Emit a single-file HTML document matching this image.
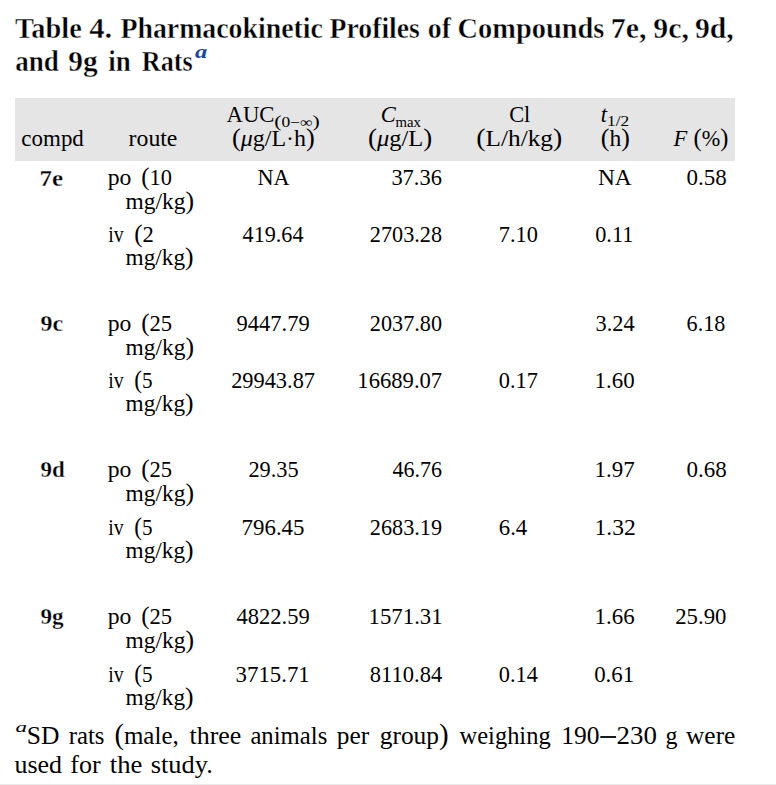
<!DOCTYPE html><html><head><meta charset="utf-8"><style>html,body{margin:0;padding:0;background:#fff;width:776px;height:785px;overflow:hidden}svg{display:block}text{font-family:"Liberation Serif",serif}</style></head><body><svg width="776" height="785" viewBox="0 0 776 785"><rect x="15" y="98" width="720" height="63" fill="#e5e5e5"/><rect x="0" y="784" width="776" height="1" fill="#eaeaea"/><rect x="600.3" y="736.1" width="15.8" height="1.8" fill="#000"/>
<text id="t1_0" x="15.00" y="37.80" font-size="28.5" font-weight="bold" textLength="66.76" lengthAdjust="spacingAndGlyphs" stroke="#fff" stroke-width="0.4" stroke-linejoin="round">Table</text>
<text id="t1_1" x="89.17" y="37.80" font-size="28.5" font-weight="bold" textLength="22.90" lengthAdjust="spacingAndGlyphs" stroke="#fff" stroke-width="0.4" stroke-linejoin="round">4.</text>
<text id="t1_2" x="120.41" y="37.80" font-size="28.5" font-weight="bold" textLength="202.56" lengthAdjust="spacingAndGlyphs" stroke="#fff" stroke-width="0.4" stroke-linejoin="round">Pharmacokinetic</text>
<text id="t1_3" x="329.61" y="37.80" font-size="28.5" font-weight="bold" textLength="90.25" lengthAdjust="spacingAndGlyphs" stroke="#fff" stroke-width="0.4" stroke-linejoin="round">Profiles</text>
<text id="t1_4" x="427.80" y="37.80" font-size="28.5" font-weight="bold" textLength="23.16" lengthAdjust="spacingAndGlyphs" stroke="#fff" stroke-width="0.4" stroke-linejoin="round">of</text>
<text id="t1_5" x="457.60" y="37.80" font-size="28.5" font-weight="bold" textLength="146.82" lengthAdjust="spacingAndGlyphs" stroke="#fff" stroke-width="0.4" stroke-linejoin="round">Compounds</text>
<text id="t1_6" x="610.70" y="37.80" font-size="28.5" font-weight="bold" textLength="35.71" lengthAdjust="spacingAndGlyphs" stroke="#fff" stroke-width="0.4" stroke-linejoin="round">7e,</text>
<text id="t1_7" x="653.36" y="37.80" font-size="28.5" font-weight="bold" textLength="35.64" lengthAdjust="spacingAndGlyphs" stroke="#fff" stroke-width="0.4" stroke-linejoin="round">9c,</text>
<text id="t1_8" x="694.96" y="37.80" font-size="28.5" font-weight="bold" textLength="38.73" lengthAdjust="spacingAndGlyphs" stroke="#fff" stroke-width="0.4" stroke-linejoin="round">9d,</text>
<text id="t2_0" x="15.24" y="70.60" font-size="28.5" font-weight="bold" textLength="43.63" lengthAdjust="spacingAndGlyphs" stroke="#fff" stroke-width="0.4" stroke-linejoin="round">and</text>
<text id="t2_1" x="68.37" y="70.60" font-size="28.5" font-weight="bold" textLength="29.43" lengthAdjust="spacingAndGlyphs" stroke="#fff" stroke-width="0.4" stroke-linejoin="round">9g</text>
<text id="t2_2" x="108.20" y="70.60" font-size="28.5" font-weight="bold" textLength="22.55" lengthAdjust="spacingAndGlyphs" stroke="#fff" stroke-width="0.4" stroke-linejoin="round">in</text>
<text id="t2_3" x="141.86" y="70.60" font-size="28.5" font-weight="bold" textLength="50.82" lengthAdjust="spacingAndGlyphs" stroke="#fff" stroke-width="0.4" stroke-linejoin="round">Rats</text>
<text id="t2_sup" x="195.00" y="58.00" font-size="18.5" font-weight="bold" font-style="italic" fill="#1a48a0" textLength="12.26" lengthAdjust="spacingAndGlyphs">a</text>
<text id="h_compd" x="21.39" y="146.30" font-size="22.5" textLength="62.46" lengthAdjust="spacingAndGlyphs">compd</text>
<text id="h_route" x="128.59" y="146.30" font-size="22.5" textLength="48.85" lengthAdjust="spacingAndGlyphs">route</text>
<text id="h_auc" x="226.59" y="122.00" font-size="22.5" textLength="47.93" lengthAdjust="spacingAndGlyphs">AUC</text>
<text id="h_aucsub" x="274.29" y="127.00" font-size="14" textLength="45.49" lengthAdjust="spacingAndGlyphs"><tspan font-size="17.5">(</tspan>0−∞<tspan font-size="17.5">)</tspan></text>
<text id="h_aucu" x="231.94" y="146.00" font-size="22.5" textLength="82.86" lengthAdjust="spacingAndGlyphs"><tspan font-size="24.8">(</tspan><tspan font-style="italic">μ</tspan>g/L·h<tspan font-size="24.8">)</tspan></text>
<text id="h_c" x="380.80" y="122.20" font-size="22.5" font-style="italic">C</text>
<text id="h_max" x="395.40" y="127.00" font-size="15" textLength="25.43" lengthAdjust="spacingAndGlyphs">max</text>
<text id="h_cu" x="368.09" y="145.90" font-size="22.5" textLength="64.15" lengthAdjust="spacingAndGlyphs"><tspan font-size="24.8">(</tspan><tspan font-style="italic">μ</tspan>g/L<tspan font-size="24.8">)</tspan></text>
<text id="h_cl" x="509.19" y="121.90" font-size="22.5" textLength="21.07" lengthAdjust="spacingAndGlyphs">Cl</text>
<text id="h_clu" x="476.29" y="146.00" font-size="22.5" textLength="85.92" lengthAdjust="spacingAndGlyphs"><tspan font-size="24.8">(</tspan>L/h/kg<tspan font-size="24.8">)</tspan></text>
<text id="h_t" x="600.80" y="122.00" font-size="22.5" font-style="italic">t</text>
<text id="h_t12" x="607.05" y="126.40" font-size="14" textLength="22.16" lengthAdjust="spacingAndGlyphs">1/2</text>
<text id="h_h" x="600.75" y="146.00" font-size="22.5" textLength="29.11" lengthAdjust="spacingAndGlyphs"><tspan font-size="24.8">(</tspan>h<tspan font-size="24.8">)</tspan></text>
<text id="h_F" x="673.40" y="146.00" font-size="22.5" font-style="italic">F</text>
<text id="h_pct" x="693.60" y="146.00" font-size="22.5" textLength="34.87" lengthAdjust="spacingAndGlyphs"><tspan font-size="24.8">(</tspan>%<tspan font-size="24.8">)</tspan></text>
<text id="g0_lab" x="39.47" y="185.50" font-size="22.5" font-weight="bold" textLength="23.61" lengthAdjust="spacingAndGlyphs" stroke="#fff" stroke-width="0.3" stroke-linejoin="round">7e</text>
<text id="g0_po" x="107.75" y="185.00" font-size="22.5" textLength="23.69" lengthAdjust="spacingAndGlyphs">po</text>
<text id="g0_pod" x="141.19" y="185.00" font-size="22.5" textLength="30.66" lengthAdjust="spacingAndGlyphs"><tspan font-size="24.8">(</tspan>10</text>
<text id="g0_mg1" x="125.60" y="208.70" font-size="22.5" textLength="68.41" lengthAdjust="spacingAndGlyphs">mg/kg<tspan font-size="24.8">)</tspan></text>
<text id="g0_iv" x="108.22" y="242.20" font-size="22.5" textLength="15.45" lengthAdjust="spacingAndGlyphs">iv</text>
<text id="g0_ivd" x="134.15" y="242.20" font-size="22.5" textLength="19.57" lengthAdjust="spacingAndGlyphs"><tspan font-size="24.8">(</tspan>2</text>
<text id="g0_mg2" x="125.58" y="265.20" font-size="22.5" textLength="68.02" lengthAdjust="spacingAndGlyphs">mg/kg<tspan font-size="24.8">)</tspan></text>
<text id="g0_n0" x="257.40" y="185.00" font-size="22.5" textLength="32.10" lengthAdjust="spacingAndGlyphs">NA</text>
<text id="g0_n1" x="391.39" y="185.00" font-size="22.5" textLength="50.54" lengthAdjust="spacingAndGlyphs">37.36</text>
<text id="g0_n3" x="597.96" y="185.00" font-size="22.5" textLength="33.77" lengthAdjust="spacingAndGlyphs">NA</text>
<text id="g0_n4" x="686.58" y="185.00" font-size="22.5" textLength="40.22" lengthAdjust="spacingAndGlyphs">0.58</text>
<text id="g0_n5" x="242.60" y="242.20" font-size="22.5" textLength="60.88" lengthAdjust="spacingAndGlyphs">419.64</text>
<text id="g0_n6" x="369.81" y="242.20" font-size="22.5" textLength="72.22" lengthAdjust="spacingAndGlyphs">2703.28</text>
<text id="g0_n7" x="498.79" y="242.20" font-size="22.5" textLength="39.10" lengthAdjust="spacingAndGlyphs">7.10</text>
<text id="g0_n8" x="595.20" y="242.20" font-size="22.5" textLength="38.15" lengthAdjust="spacingAndGlyphs">0.11</text>
<text id="g1_lab" x="40.54" y="331.00" font-size="22.5" font-weight="bold" textLength="22.64" lengthAdjust="spacingAndGlyphs" stroke="#fff" stroke-width="0.3" stroke-linejoin="round">9c</text>
<text id="g1_po" x="107.75" y="331.20" font-size="22.5" textLength="23.69" lengthAdjust="spacingAndGlyphs">po</text>
<text id="g1_pod" x="141.18" y="331.20" font-size="22.5" textLength="30.88" lengthAdjust="spacingAndGlyphs"><tspan font-size="24.8">(</tspan>25</text>
<text id="g1_mg1" x="125.60" y="354.90" font-size="22.5" textLength="68.41" lengthAdjust="spacingAndGlyphs">mg/kg<tspan font-size="24.8">)</tspan></text>
<text id="g1_iv" x="108.22" y="388.40" font-size="22.5" textLength="15.45" lengthAdjust="spacingAndGlyphs">iv</text>
<text id="g1_ivd" x="134.22" y="388.40" font-size="22.5" textLength="18.29" lengthAdjust="spacingAndGlyphs"><tspan font-size="24.8">(</tspan>5</text>
<text id="g1_mg2" x="125.58" y="411.40" font-size="22.5" textLength="68.02" lengthAdjust="spacingAndGlyphs">mg/kg<tspan font-size="24.8">)</tspan></text>
<text id="g1_n0" x="236.60" y="331.20" font-size="22.5" textLength="73.12" lengthAdjust="spacingAndGlyphs">9447.79</text>
<text id="g1_n1" x="369.81" y="331.20" font-size="22.5" textLength="72.22" lengthAdjust="spacingAndGlyphs">2037.80</text>
<text id="g1_n3" x="595.59" y="331.20" font-size="22.5" textLength="39.09" lengthAdjust="spacingAndGlyphs">3.24</text>
<text id="g1_n4" x="686.61" y="331.20" font-size="22.5" textLength="38.75" lengthAdjust="spacingAndGlyphs">6.18</text>
<text id="g1_n5" x="231.20" y="388.40" font-size="22.5" textLength="83.78" lengthAdjust="spacingAndGlyphs">29943.87</text>
<text id="g1_n6" x="357.39" y="388.40" font-size="22.5" textLength="84.79" lengthAdjust="spacingAndGlyphs">16689.07</text>
<text id="g1_n7" x="498.80" y="388.40" font-size="22.5" textLength="39.09" lengthAdjust="spacingAndGlyphs">0.17</text>
<text id="g1_n8" x="594.57" y="388.40" font-size="22.5" textLength="40.11" lengthAdjust="spacingAndGlyphs">1.60</text>
<text id="g2_lab" x="40.57" y="477.10" font-size="22.5" font-weight="bold" textLength="24.29" lengthAdjust="spacingAndGlyphs" stroke="#fff" stroke-width="0.3" stroke-linejoin="round">9d</text>
<text id="g2_po" x="107.75" y="477.30" font-size="22.5" textLength="23.69" lengthAdjust="spacingAndGlyphs">po</text>
<text id="g2_pod" x="141.18" y="477.30" font-size="22.5" textLength="30.88" lengthAdjust="spacingAndGlyphs"><tspan font-size="24.8">(</tspan>25</text>
<text id="g2_mg1" x="125.60" y="501.00" font-size="22.5" textLength="68.41" lengthAdjust="spacingAndGlyphs">mg/kg<tspan font-size="24.8">)</tspan></text>
<text id="g2_iv" x="108.22" y="534.50" font-size="22.5" textLength="15.45" lengthAdjust="spacingAndGlyphs">iv</text>
<text id="g2_ivd" x="134.22" y="534.50" font-size="22.5" textLength="18.29" lengthAdjust="spacingAndGlyphs"><tspan font-size="24.8">(</tspan>5</text>
<text id="g2_mg2" x="125.58" y="557.50" font-size="22.5" textLength="68.02" lengthAdjust="spacingAndGlyphs">mg/kg<tspan font-size="24.8">)</tspan></text>
<text id="g2_n0" x="248.40" y="477.30" font-size="22.5" textLength="50.22" lengthAdjust="spacingAndGlyphs">29.35</text>
<text id="g2_n1" x="392.40" y="477.30" font-size="22.5" textLength="49.52" lengthAdjust="spacingAndGlyphs">46.76</text>
<text id="g2_n3" x="594.57" y="477.30" font-size="22.5" textLength="40.11" lengthAdjust="spacingAndGlyphs">1.97</text>
<text id="g2_n4" x="686.58" y="477.30" font-size="22.5" textLength="40.22" lengthAdjust="spacingAndGlyphs">0.68</text>
<text id="g2_n5" x="241.58" y="534.50" font-size="22.5" textLength="62.91" lengthAdjust="spacingAndGlyphs">796.45</text>
<text id="g2_n6" x="369.81" y="534.50" font-size="22.5" textLength="72.22" lengthAdjust="spacingAndGlyphs">2683.19</text>
<text id="g2_n7" x="498.77" y="534.50" font-size="22.5" textLength="28.48" lengthAdjust="spacingAndGlyphs">6.4</text>
<text id="g2_n8" x="594.51" y="534.50" font-size="22.5" textLength="41.20" lengthAdjust="spacingAndGlyphs">1.32</text>
<text id="g3_lab" x="40.53" y="624.20" font-size="22.5" font-weight="bold" textLength="23.11" lengthAdjust="spacingAndGlyphs" stroke="#fff" stroke-width="0.3" stroke-linejoin="round">9g</text>
<text id="g3_po" x="107.75" y="624.40" font-size="22.5" textLength="23.69" lengthAdjust="spacingAndGlyphs">po</text>
<text id="g3_pod" x="141.18" y="624.40" font-size="22.5" textLength="30.88" lengthAdjust="spacingAndGlyphs"><tspan font-size="24.8">(</tspan>25</text>
<text id="g3_mg1" x="125.60" y="648.10" font-size="22.5" textLength="68.41" lengthAdjust="spacingAndGlyphs">mg/kg<tspan font-size="24.8">)</tspan></text>
<text id="g3_iv" x="108.22" y="681.60" font-size="22.5" textLength="15.45" lengthAdjust="spacingAndGlyphs">iv</text>
<text id="g3_ivd" x="134.22" y="681.60" font-size="22.5" textLength="18.29" lengthAdjust="spacingAndGlyphs"><tspan font-size="24.8">(</tspan>5</text>
<text id="g3_mg2" x="125.58" y="704.60" font-size="22.5" textLength="68.02" lengthAdjust="spacingAndGlyphs">mg/kg<tspan font-size="24.8">)</tspan></text>
<text id="g3_n0" x="236.60" y="624.40" font-size="22.5" textLength="73.12" lengthAdjust="spacingAndGlyphs">4822.59</text>
<text id="g3_n1" x="368.57" y="624.40" font-size="22.5" textLength="74.07" lengthAdjust="spacingAndGlyphs">1571.31</text>
<text id="g3_n3" x="594.57" y="624.40" font-size="22.5" textLength="40.11" lengthAdjust="spacingAndGlyphs">1.66</text>
<text id="g3_n4" x="675.20" y="624.40" font-size="22.5" textLength="51.23" lengthAdjust="spacingAndGlyphs">25.90</text>
<text id="g3_n5" x="235.58" y="681.60" font-size="22.5" textLength="74.15" lengthAdjust="spacingAndGlyphs">3715.71</text>
<text id="g3_n6" x="369.80" y="681.60" font-size="22.5" textLength="72.41" lengthAdjust="spacingAndGlyphs">8110.84</text>
<text id="g3_n7" x="498.79" y="681.60" font-size="22.5" textLength="39.09" lengthAdjust="spacingAndGlyphs">0.14</text>
<text id="g3_n8" x="594.18" y="681.60" font-size="22.5" textLength="40.05" lengthAdjust="spacingAndGlyphs">0.61</text>
<text id="f_sup" x="15.56" y="732.00" font-size="15.5" font-style="italic" textLength="11.53" lengthAdjust="spacingAndGlyphs">a</text>
<text id="f1_0" x="26.76" y="744.00" font-size="25.0" textLength="32.62" lengthAdjust="spacingAndGlyphs">SD</text>
<text id="f1_1" x="68.79" y="744.00" font-size="25.0" textLength="35.72" lengthAdjust="spacingAndGlyphs">rats</text>
<text id="f1_2" x="114.40" y="744.00" font-size="25.0" textLength="64.34" lengthAdjust="spacingAndGlyphs"><tspan font-size="28.5">(</tspan>male,</text>
<text id="f1_3" x="189.60" y="744.00" font-size="25.0" textLength="51.71" lengthAdjust="spacingAndGlyphs">three</text>
<text id="f1_4" x="250.41" y="744.00" font-size="25.0" textLength="76.85" lengthAdjust="spacingAndGlyphs">animals</text>
<text id="f1_5" x="336.79" y="744.00" font-size="25.0" textLength="32.35" lengthAdjust="spacingAndGlyphs">per</text>
<text id="f1_6" x="379.78" y="744.00" font-size="25.0" textLength="68.86" lengthAdjust="spacingAndGlyphs">group<tspan font-size="28.5">)</tspan></text>
<text id="f1_7" x="459.59" y="744.00" font-size="25.0" textLength="91.05" lengthAdjust="spacingAndGlyphs">weighing</text>
<text id="f1_8" x="561.36" y="744.00" font-size="25.0" textLength="38.24" lengthAdjust="spacingAndGlyphs">190</text>
<text id="f1_9" x="616.51" y="744.00" font-size="25.0" textLength="40.34" lengthAdjust="spacingAndGlyphs">230</text>
<text id="f1_10" x="665.57" y="744.00" font-size="25.0" textLength="11.97" lengthAdjust="spacingAndGlyphs">g</text>
<text id="f1_11" x="686.00" y="744.00" font-size="25.0" textLength="49.40" lengthAdjust="spacingAndGlyphs">were</text>
<text id="f2_0" x="14.57" y="772.80" font-size="25.0" textLength="47.48" lengthAdjust="spacingAndGlyphs">used</text>
<text id="f2_1" x="70.36" y="772.80" font-size="25.0" textLength="30.31" lengthAdjust="spacingAndGlyphs">for</text>
<text id="f2_2" x="109.78" y="772.80" font-size="25.0" textLength="32.56" lengthAdjust="spacingAndGlyphs">the</text>
<text id="f2_3" x="150.75" y="772.80" font-size="25.0" textLength="62.03" lengthAdjust="spacingAndGlyphs">study.</text>
</svg></body></html>
